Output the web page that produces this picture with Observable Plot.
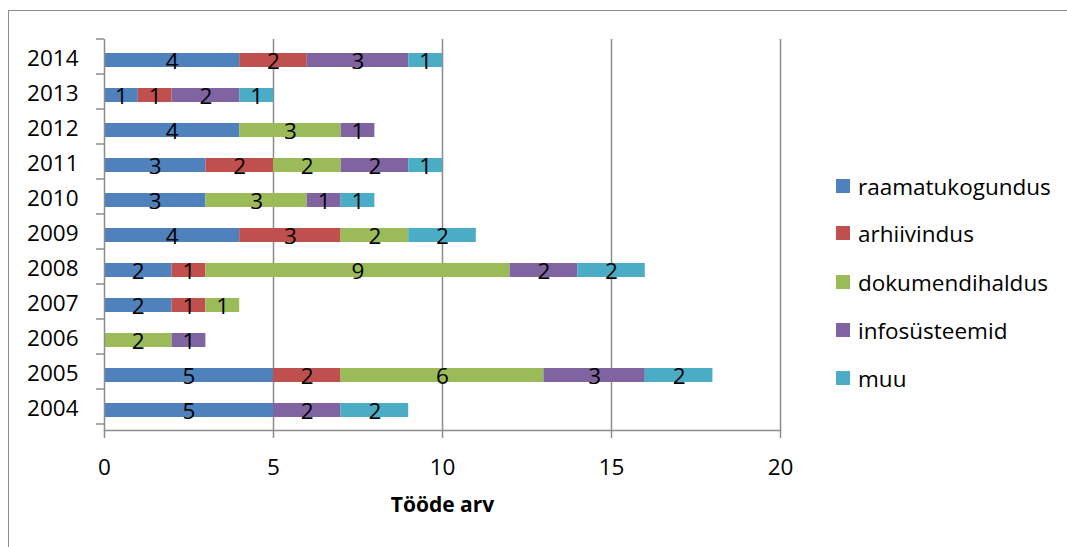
<!DOCTYPE html>
<html>
<head>
<meta charset="utf-8">
<script src="https://cdn.jsdelivr.net/npm/d3@7"></script>
<script src="https://cdn.jsdelivr.net/npm/@observablehq/plot@0.6"></script>
<style>
  html, body { margin: 0; padding: 0; background: #fff; overflow: hidden; }
  #wrap { position: relative; width: 1067px; height: 547px; overflow: hidden; font-family: "Open Sans", sans-serif; }
  #border { position: absolute; left: 8px; top: 10px; width: 1100px; height: 600px; border: 1.5px solid #8c8c8c; box-sizing: border-box; }
  #chart { position: absolute; left: 0; top: 0; }
  #legend { position: absolute; left: 836px; top: 0; }
  .item { position: absolute; left: 0; display: flex; align-items: center; white-space: nowrap; font-size: 22.5px; color: #000; }
  .sw { width: 14px; height: 14px; margin-right: 8px; }
</style>
</head>
<body>
<div id="wrap">
  <div id="border"></div>
  <div id="chart"></div>
  <div id="legend"></div>
</div>
<script>
const years = [2004, 2005, 2006, 2007, 2008, 2009, 2010, 2011, 2012, 2013, 2014];
const seriesNames = ["raamatukogundus", "arhiivindus", "dokumendihaldus", "infosüsteemid", "muu"];
const seriesColors = ["#4F81BD", "#C0504D", "#9BBB59", "#8064A2", "#4BACC6"];
const raamatukogundus = [5, 5, 0, 2, 2, 4, 3, 3, 4, 1, 4];
const arhiivindus     = [0, 2, 0, 1, 1, 3, 0, 2, 0, 1, 2];
const dokumendihaldus = [0, 6, 2, 1, 9, 2, 3, 2, 3, 0, 0];
const infosusteemid   = [2, 3, 1, 0, 2, 0, 1, 2, 1, 2, 3];
const muu             = [2, 2, 0, 0, 2, 2, 1, 1, 0, 1, 1];
const xTicks = [0, 5, 10, 15, 20];
const xLabel = "Tööde arv";

const seriesValues = [raamatukogundus, arhiivindus, dokumendihaldus, infosusteemid, muu];
const rows = [];
years.forEach((y, i) => {
  seriesNames.forEach((s, j) => {
    const v = seriesValues[j][i];
    if (v > 0) rows.push({year: String(y), series: s, value: v});
  });
});

const yDomain = years.map(String).reverse();
const font = "Open Sans, sans-serif";
const grey = "#8c8c8c";
const fs = 22.5;

const plot = Plot.plot({
  width: 1067,
  height: 547,
  marginLeft: 104,
  marginRight: 287,
  marginTop: 39,
  marginBottom: 117,
  style: {fontFamily: font, fontSize: fs + "px", color: "#000", background: "transparent", overflow: "visible"},
  x: {domain: [0, 20]},
  y: {domain: yDomain, paddingInner: 0.6, paddingOuter: 0.3},
  color: {domain: seriesNames, range: seriesColors},
  marks: [
    Plot.gridX(xTicks.filter(d => d > 0), {stroke: grey, strokeOpacity: 1, strokeWidth: 1.5}),
    Plot.barX(rows, Plot.stackX({x: "value", y: "year", fill: "series", order: seriesNames})),
    Plot.text(rows, Plot.stackX({x: "value", y: "year", z: "series", text: d => String(d.value), order: seriesNames, fill: "#000", fontSize: fs, dy: 1})),
    Plot.ruleX([0], {stroke: grey, strokeWidth: 1.5}),
    Plot.frame({anchor: "bottom", stroke: grey, strokeWidth: 1.5}),
    Plot.axisX(xTicks, {tickSize: 8, tickPadding: 21, stroke: grey, strokeWidth: 1.5, label: null, fontSize: fs}),
    Plot.axisY({tickSize: 0, tickPadding: 26, label: null, fontSize: fs, dy: -1.5}),
    Plot.text([xLabel], {frameAnchor: "bottom", dy: 81, fontWeight: "bold", fontSize: 21})
  ]
});
document.getElementById("chart").appendChild(plot);

// category-boundary ticks on the y axis, from the library's y scale
const ys = plot.scale("y");
const [r0, r1] = ys.range;
const step = ys.step;
const svg = d3.select(plot);
const g = svg.append("g").attr("stroke", grey).attr("stroke-width", 1.5);
for (let i = 0; i <= years.length; i++) {
  const yy = Math.min(r0, r1) + i * step;
  g.append("line").attr("x1", 96).attr("x2", 104).attr("y1", yy).attr("y2", yy);
}

// legend
const legend = d3.select("#legend");
const legendY = [186, 233, 282, 330, 378];
seriesNames.forEach((s, i) => {
  const it = legend.append("div").attr("class", "item").style("top", (legendY[i] - 16) + "px").style("height", "32px");
  it.append("div").attr("class", "sw").style("background", seriesColors[i]);
  it.append("span").text(s);
});
</script>
</body>
</html>
